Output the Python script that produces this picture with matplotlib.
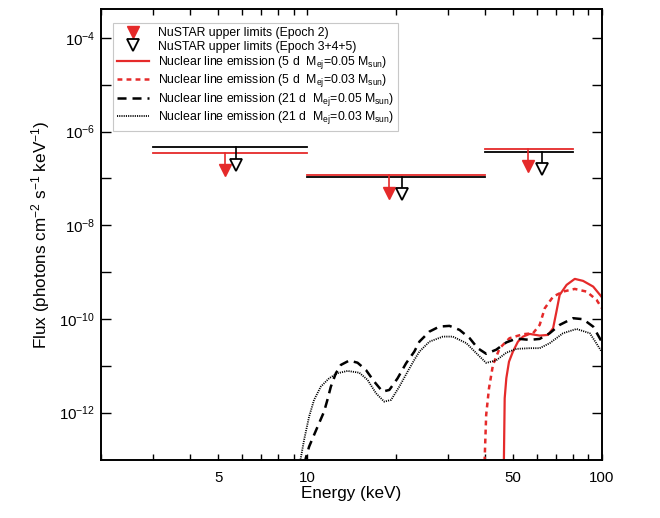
import numpy as np
import matplotlib
matplotlib.use('Agg')
import matplotlib.pyplot as plt
from matplotlib.ticker import NullFormatter, NullLocator

plt.rcParams['font.family'] = ['Liberation Sans', 'DejaVu Sans']
plt.rcParams['mathtext.default'] = 'regular'
plt.rcParams['lines.scale_dashes'] = False

RED = '#e52a2a'

# NuSTAR upper limits: energy bands (keV) and flux limits
band_lo = [3, 10, 40]
band_hi = [10, 40, 80]
ep2_limit = [3.5e-7, 1.17e-7, 4.3e-7]
ep345_limit = [4.6e-7, 1.08e-7, 3.7e-7]
ep2_arrow_e = [5.26, 19.0, 56.1]
ep345_arrow_e = [5.73, 21.0, 62.4]

# 5 d, Mej = 0.05 Msun
e_5d_05 = [46.5, 46.8, 47.4, 48.4, 49.9, 51.9, 54.0, 56.9, 61.5, 65.6, 68.3, 70.1, 71.9, 75.9,
           80.9, 86.3, 93.4, 100]
f_5d_05 = [9e-14, 2.02e-12, 5.4e-12, 1.22e-11, 2.0e-11, 3.27e-11, 4.19e-11, 4.78e-11, 4.4e-11,
           4.55e-11, 6.33e-11, 1.43e-10, 3.26e-10, 5.33e-10, 7.16e-10, 6.49e-10, 4.9e-10, 2.9e-10]

# 5 d, Mej = 0.03 Msun
e_5d_03 = [40.0, 40.5, 41.4, 42.7, 45.0, 48.6, 54.0, 58.4, 61.5, 64.0, 68.3, 73.8, 80.9, 88.7,
           95.9, 100]
f_5d_03 = [9e-14, 8.9e-13, 3.3e-12, 1.04e-11, 2.37e-11, 3.87e-11, 4.71e-11, 4.94e-11, 7.44e-11,
           1.69e-10, 2.99e-10, 3.83e-10, 4.37e-10, 3.83e-10, 2.55e-10, 1.69e-10]

# 21 d, Mej = 0.05 Msun
e_21d_05 = [9.8, 9.9, 10.16, 10.56, 10.98, 11.42, 11.72, 12.04, 12.52, 13.02, 13.9, 14.83, 15.84,
            16.9, 18.03, 19.01, 20.28, 21.67, 23.1, 24.04, 26.0, 28.1, 30.4, 32.9, 35.6, 37.9,
            40.5, 43.8, 47.4, 51.3, 56.9, 61.5, 66.5, 71.9, 79.8, 86.3, 93.4, 99.8]
f_21d_05 = [8e-14, 1.06e-13, 1.87e-13, 3.32e-13, 5.9e-13, 1.045e-12, 1.86e-12, 3.57e-12, 6.9e-12,
            1.04e-11, 1.29e-11, 1.16e-11, 8.1e-12, 4.57e-12, 2.8e-12, 3.04e-12, 5.4e-12, 1.13e-11,
            2.0e-11, 3.27e-11, 5.36e-11, 6.85e-11, 7.1e-11, 5.82e-11, 3.87e-11, 2.37e-11, 1.8e-11,
            2.2e-11, 3.15e-11, 3.8e-11, 3.56e-11, 3.74e-11, 4.94e-11, 7.44e-11, 1.035e-10, 9.86e-11,
            6.84e-11, 3.27e-11]

# 21 d, Mej = 0.03 Msun
e_21d_03 = [9.45, 9.52, 9.77, 10.16, 10.56, 11.13, 11.88, 12.68, 13.71, 15.03, 16.04, 17.13, 18.27,
            19.27, 20.55, 21.93, 23.1, 24.04, 26.0, 28.9, 31.2, 34.7, 37.5, 40.5, 43.8, 47.4, 51.3,
            56.9, 61.5, 66.5, 73.8, 82.0, 91.0, 99.8]
f_21d_03 = [8e-14, 1.06e-13, 2.6e-13, 8.2e-13, 1.86e-12, 3.57e-12, 5.4e-12, 6.9e-12, 7.74e-12,
            7.1e-12, 4.98e-12, 2.58e-12, 1.71e-12, 1.86e-12, 3.57e-12, 7.5e-12, 1.33e-11, 2.0e-11,
            3.27e-11, 4.19e-11, 4.19e-11, 3.03e-11, 1.85e-11, 1.15e-11, 1.3e-11, 1.9e-11, 2.29e-11,
            2.37e-11, 2.37e-11, 3.03e-11, 4.94e-11, 6.1e-11, 4.94e-11, 2.0e-11]

xtick_values = [5, 10, 50, 100]
xtick_labels = ['5', '10', '50', '100']
ytick_exp = list(range(-12, -3))
ytick_labels = ['10$^{%d}$' % p if p % 2 == 0 else '' for p in ytick_exp]

fig = plt.figure(figsize=(6.6, 5.18), dpi=100)
ax = fig.add_axes([0.153, 0.112, 0.759, 0.871])
ax.set_xscale('log')
ax.set_yscale('log')

# upper limit bars with arrows (arrow length in decades)
shaft = 10 ** -0.26
tip = 10 ** -0.37
for lo, hi, f2, f3, e2, e3 in zip(band_lo, band_hi, ep2_limit, ep345_limit, ep2_arrow_e, ep345_arrow_e):
    ax.plot([lo, hi], [f3, f3], color='black', lw=1.3)
    ax.plot([lo, hi], [f2, f2], color=RED, lw=1.3)
    ax.plot([e2, e2], [f2, f2 * shaft], color=RED, lw=1.2)
    ax.plot([e3, e3], [f3, f3 * shaft], color='black', lw=1.2)

ax.plot(ep2_arrow_e, np.array(ep2_limit) * tip, ls='none', marker='v', ms=8,
        mfc=RED, mec=RED, label='NuSTAR upper limits (Epoch 2)')
ax.plot(ep345_arrow_e, np.array(ep345_limit) * tip, ls='none', marker='v', ms=8.5,
        mfc='white', mec='black', mew=1.3, label='NuSTAR upper limits (Epoch 3+4+5)')

ax.plot(e_5d_05, f_5d_05, color=RED, lw=1.6,
        label='Nuclear line emission (5 d  M$_{ej}$=0.05 M$_{sun}$)')
ax.plot(e_5d_03, f_5d_03, color=RED, lw=1.8, dashes=(3.5, 3),
        label='Nuclear line emission (5 d  M$_{ej}$=0.03 M$_{sun}$)')
ax.plot(e_21d_05, f_21d_05, color='black', lw=1.8, dashes=(6.5, 4.3),
        label='Nuclear line emission (21 d  M$_{ej}$=0.05 M$_{sun}$)')
ax.plot(e_21d_03, f_21d_03, color='black', lw=1.3, dashes=(0.8, 0.8),
        label='Nuclear line emission (21 d  M$_{ej}$=0.03 M$_{sun}$)')

ax.set_xlim(2, 100)
ax.set_ylim(9.7e-14, 4.2e-4)

ax.set_xticks(xtick_values)
ax.set_xticklabels(xtick_labels)
ax.set_xticks([2, 3, 4, 6, 7, 8, 9, 20, 30, 40, 60, 70, 80, 90], minor=True)
ax.xaxis.set_minor_formatter(NullFormatter())
ax.set_yticks([10.0 ** p for p in ytick_exp])
ax.set_yticklabels(ytick_labels)
ax.yaxis.set_minor_locator(NullLocator())

ax.tick_params(axis='both', which='both', direction='in', top=True, right=True,
               width=1.0, labelsize=10.8)
ax.tick_params(axis='x', which='both', length=4.5, pad=8)
ax.tick_params(axis='y', which='major', length=7.5, pad=4)
for sp in ax.spines.values():
    sp.set_linewidth(1.4)

ax.set_xlabel('Energy (keV)', fontsize=12.3, labelpad=1)
ax.set_ylabel('Flux (photons cm$^{-2}$ s$^{-1}$ keV$^{-1}$)', fontsize=12.3, labelpad=5)

leg = ax.legend(loc='upper left', bbox_to_anchor=(0.024, 0.969), borderaxespad=0,
                fontsize=8.8, frameon=True, fancybox=False, framealpha=1,
                handlelength=2.6, handletextpad=0.7, labelspacing=0.12,
                borderpad=0.35, edgecolor='#c8c8c8')
leg.get_frame().set_linewidth(0.8)

fig.savefig('out.png', dpi=100)
